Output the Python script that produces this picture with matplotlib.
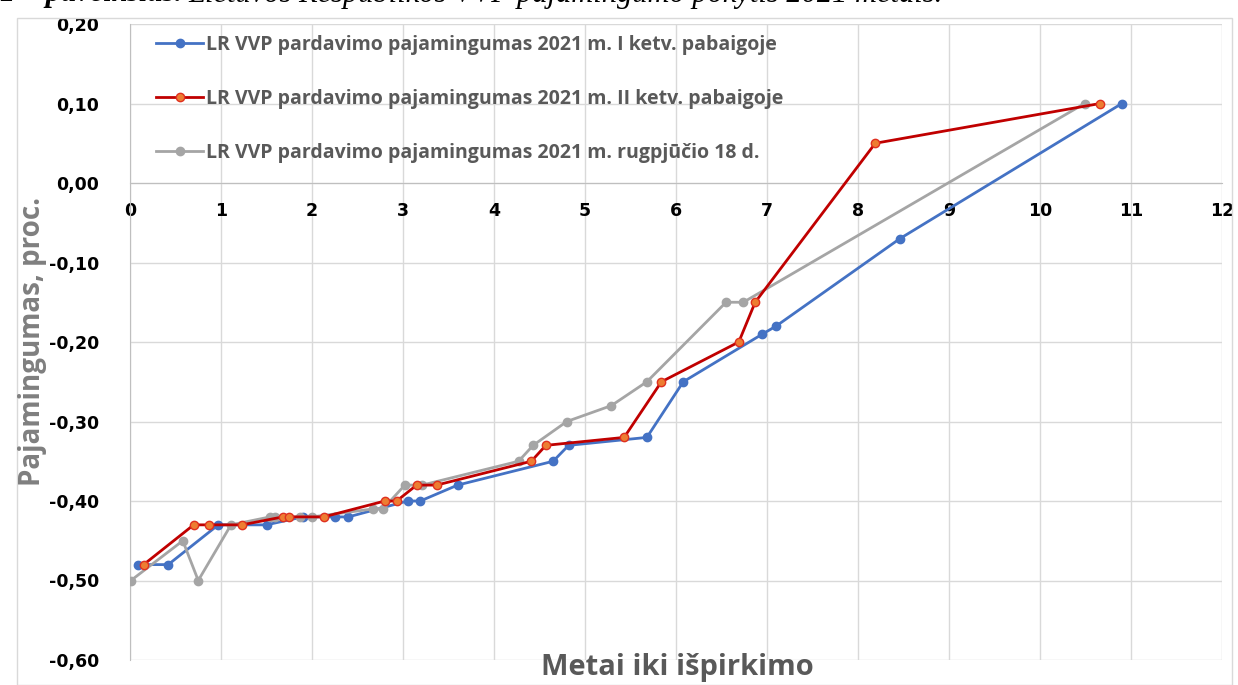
import matplotlib.pyplot as plt
from matplotlib.ticker import FuncFormatter, MultipleLocator

# Data (years to maturity, yield in %)
x_q1 = [0.09, 0.42, 0.97, 1.50, 1.90, 2.25, 2.40, 3.05, 3.19, 3.60, 4.65, 4.82, 5.68, 6.08, 6.95, 7.10, 8.46, 10.90]
y_q1 = [-0.48, -0.48, -0.43, -0.43, -0.42, -0.42, -0.42, -0.40, -0.40, -0.38, -0.35, -0.33, -0.32, -0.25, -0.19, -0.18, -0.07, 0.10]

x_q2 = [0.15, 0.70, 0.87, 1.23, 1.68, 1.75, 2.13, 2.80, 2.93, 3.15, 3.37, 4.41, 4.57, 5.43, 5.84, 6.69, 6.87, 8.19, 10.66]
y_q2 = [-0.48, -0.43, -0.43, -0.43, -0.42, -0.42, -0.42, -0.40, -0.40, -0.38, -0.38, -0.35, -0.33, -0.32, -0.25, -0.20, -0.15, 0.05, 0.10]

x_aug = [0.01, 0.58, 0.75, 1.11, 1.54, 1.59, 1.87, 2.00, 2.67, 2.78, 3.02, 3.21, 4.27, 4.43, 4.80, 5.29, 5.68, 6.55, 6.74, 10.49]
y_aug = [-0.50, -0.45, -0.50, -0.43, -0.42, -0.42, -0.42, -0.42, -0.41, -0.41, -0.38, -0.38, -0.35, -0.33, -0.30, -0.28, -0.25, -0.15, -0.15, 0.10]

labels = [
    "LR VVP pardavimo pajamingumas 2021 m. I ketv. pabaigoje",
    "LR VVP pardavimo pajamingumas 2021 m. II ketv. pabaigoje",
    "LR VVP pardavimo pajamingumas 2021 m. rugpjūčio 18 d.",
]

fig = plt.figure(figsize=(12.38, 6.85), dpi=100)
ax = fig.add_axes([130 / 1238, 1 - 660 / 685, (1222 - 130) / 1238, (660 - 24) / 685])

# outer chart border
fig.patches.append(plt.Rectangle((17 / 1238, 0.0), (1232 - 17) / 1238, 1 - 18 / 685,
                                 transform=fig.transFigure, fill=False,
                                 edgecolor="#d9d9d9", lw=1))

ax.plot(x_q1, y_q1, color="#4472C4", lw=2, marker="o", ms=6, label=labels[0], zorder=3)
ax.plot(x_q2, y_q2, color="#C00000", lw=2, marker="o", ms=6, mfc="#ED7D31", mec="#E03020",
        label=labels[1], zorder=4)
ax.plot(x_aug, y_aug, color="#A5A5A5", lw=2, marker="o", ms=6, label=labels[2], zorder=3)

ax.set_xlim(0, 12)
ax.set_ylim(-0.6, 0.2)
ax.xaxis.set_major_locator(MultipleLocator(1))
ax.yaxis.set_major_locator(MultipleLocator(0.1))
ax.yaxis.set_major_formatter(FuncFormatter(lambda v, p: f"{v:.2f}".replace(".", ",").replace("-0,00", "0,00")))
ax.grid(True, color="#d9d9d9", lw=1)
ax.set_axisbelow(True)

for s in ["top", "right"]:
    ax.spines[s].set_visible(False)
ax.spines["bottom"].set_position(("data", 0))
ax.spines["bottom"].set_color("#bfbfbf")
ax.spines["left"].set_color("#bfbfbf")
ax.tick_params(length=0)
ax.tick_params(axis="x", pad=14)
ax.tick_params(axis="y", pad=22)
for t in ax.get_xticklabels() + ax.get_yticklabels():
    t.set_fontfamily("DejaVu Sans")
    t.set_fontweight("bold")
    t.set_fontsize(12.5)
    t.set_color("black")

fig.text(677 / 1238, 1 - 667 / 685, "Metai iki išpirkimo", ha="center", va="center",
         fontsize=21, fontweight="bold", color="#595959", family="Open Sans")
fig.text(33 / 1238, 1 - 341 / 685, "Pajamingumas, proc.", ha="center", va="center",
         rotation=90, fontsize=20, fontweight="bold", color="#7f7f7f", family="Open Sans")

leg = ax.legend(loc="upper left", bbox_to_anchor=(0.008, 1.011), frameon=False,
                labelspacing=1.75, handlelength=2.4, handletextpad=0.15,
                prop={"family": "Open Sans", "weight": "bold", "size": 14})
for t in leg.get_texts():
    t.set_color("#595959")

# caption cut off at the top of the picture
cap_y = 1 + 6 / 685
t1 = fig.text(0.0, cap_y, "1 – paveikslas.", ha="left", va="center", fontsize=22,
              family="Liberation Serif", style="italic", fontweight="bold")
fig.canvas.draw()
bb = t1.get_window_extent()
fig.text((bb.x1 + 6) / 1238, cap_y, "Lietuvos Respublikos VVP pajamingumo pokytis 2021 metais.",
         ha="left", va="center", fontsize=22, family="Liberation Serif", style="italic")

fig.savefig("out.png", dpi=100)
